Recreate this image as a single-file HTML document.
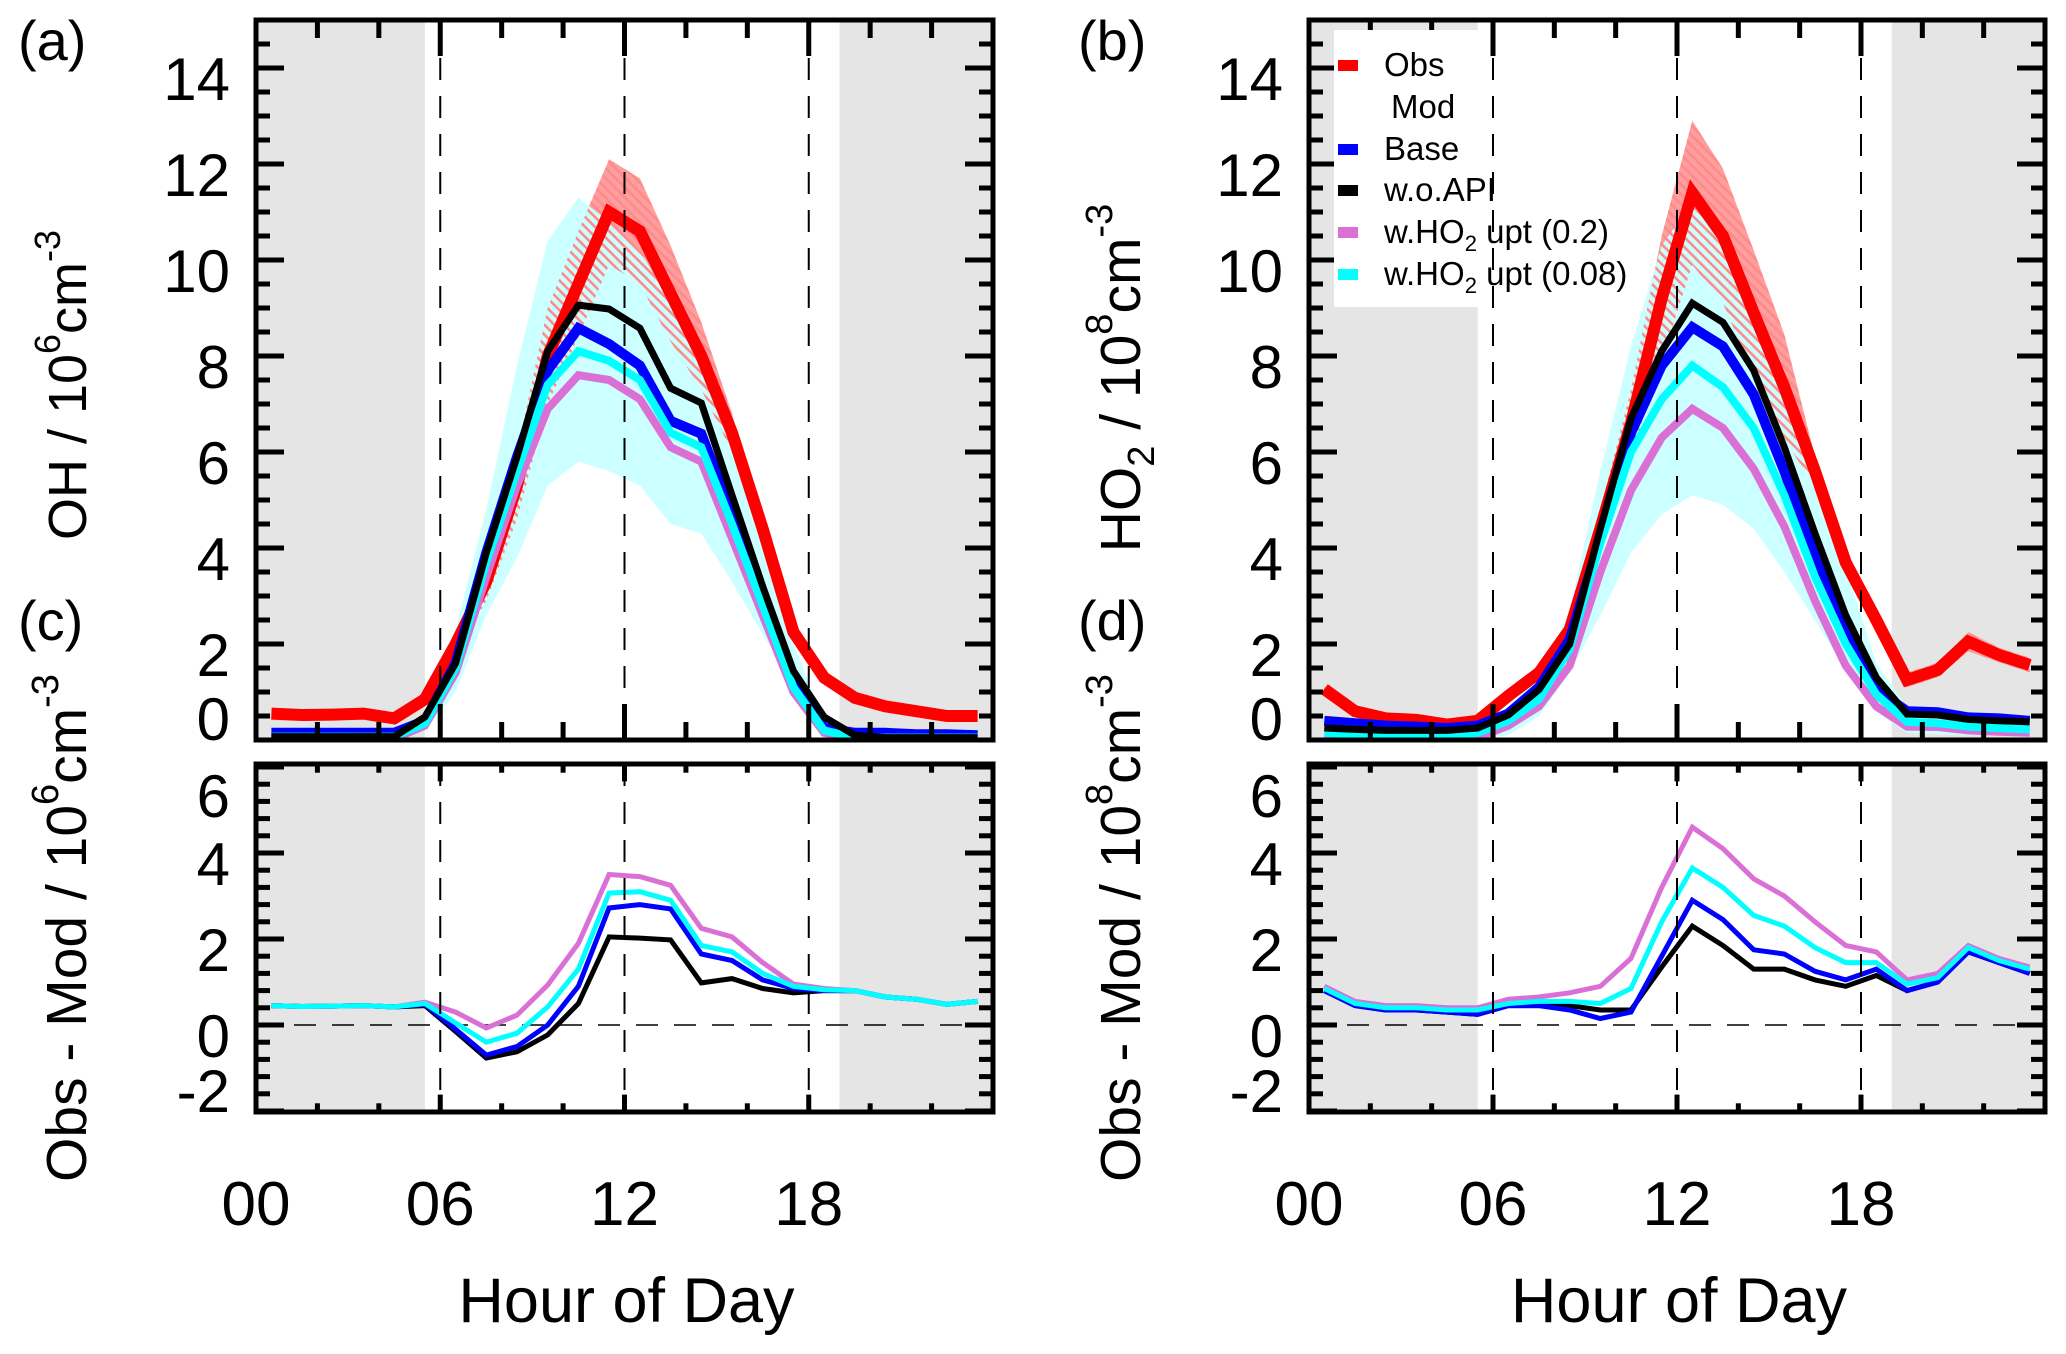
<!DOCTYPE html>
<html><head><meta charset="utf-8"><style>
html,body{margin:0;padding:0;background:#fff;}
svg{display:block;font-family:"Liberation Sans",sans-serif;}
</style></head><body>
<svg id="fig" width="2066" height="1354" viewBox="0 0 2066 1354" xmlns="http://www.w3.org/2000/svg">
<defs>
<pattern id="hatch" patternUnits="userSpaceOnUse" width="7" height="7" patternTransform="rotate(-45)">
<rect x="0" y="0" width="2.6" height="7" fill="#ff8a8a"/>
</pattern>
<clipPath id="clipAU"><rect x="256" y="20" width="737" height="720"/></clipPath>
<clipPath id="clipAL"><rect x="256" y="764" width="737" height="348"/></clipPath>
<clipPath id="clipBU"><rect x="1309" y="20" width="736" height="720"/></clipPath>
<clipPath id="clipBL"><rect x="1309" y="764" width="736" height="348"/></clipPath>
</defs>
</svg>
<script>
// ---- data ----
const hours = [0.5,1.5,2.5,3.5,4.5,5.5,6.5,7.5,8.5,9.5,10.5,11.5,12.5,13.5,14.5,15.5,16.5,17.5,18.5,19.5,20.5,21.5,22.5,23.5];
const xTicks = [0,6,12,18];
const xTickLabels = ["00","06","12","18"];
const upperTicks = [0,2,4,6,8,10,12,14];
const lowerTicks = [-2,0,2,4,6];

// Panel (a) OH
const ohObs    = [0.55,0.52,0.53,0.55,0.45,0.85,2.0,3.3,5.3,8.0,9.5,11.0,10.6,9.3,8.0,6.4,4.4,2.25,1.3,0.88,0.7,0.6,0.5,0.5];
const ohObsErr = [0,0,0,0,0,0,0.2,0.4,0.7,1.0,1.1,1.1,1.1,1.0,0.7,0.4,0.2,0.1,0.05,0.05,0,0,0,0];
const ohBase   = [0.15,0.15,0.15,0.15,0.15,0.4,1.6,3.9,5.9,7.7,8.58,8.25,7.8,6.65,6.38,4.7,2.9,1.2,0.25,0.15,0.15,0.12,0.12,0.1];
const ohNoApi  = [0.07,0.07,0.07,0.07,0.07,0.48,1.6,3.9,5.9,8.1,9.06,8.98,8.58,7.33,7.02,5.1,3.2,1.44,0.48,0.1,0.05,0.05,0.05,0.05];
const ohUpt02  = [0.03,0.03,0.03,0.03,0.03,0.3,1.4,3.4,5.3,6.9,7.6,7.5,7.1,6.1,5.8,4.2,2.6,1.0,0.15,0.02,0.02,0.02,0.02,0.02];
const ohUpt008 = [0.07,0.07,0.07,0.07,0.07,0.35,1.5,3.7,5.6,7.4,8.1,7.9,7.5,6.4,6.1,4.5,2.8,1.1,0.2,0.05,0.05,0.05,0.05,0.05];
const ohBandLo = [0.02,0.02,0.02,0.02,0.02,0.2,1.0,2.6,3.8,5.3,5.8,5.6,5.3,4.5,4.3,3.3,2.2,1.2,0.2,0.02,0.02,0.02,0.02,0.02];
const ohBandHi = [0.1,0.1,0.1,0.1,0.1,0.5,2.3,4.8,7.8,10.4,11.3,10.8,10.2,9.1,8.2,6.5,4.3,2.0,0.4,0.1,0.1,0.1,0.1,0.1];

// Panel (b) HO2
const ho2Obs    = [1.06,0.6,0.45,0.42,0.32,0.4,0.92,1.4,2.3,4.4,6.6,9.2,11.4,10.5,8.9,7.35,5.6,3.7,2.5,1.25,1.46,2.05,1.77,1.56];
const ho2ObsErr = [0.05,0.05,0.05,0.05,0.05,0.05,0.05,0.1,0.2,0.4,0.7,1.3,1.5,1.4,1.3,1.1,0.3,0.2,0.15,0.15,0.15,0.2,0.15,0.15];
const ho2Base   = [0.4,0.35,0.3,0.28,0.25,0.3,0.55,1.1,2.1,4.2,6.4,7.8,8.6,8.2,7.2,5.6,3.8,2.2,1.05,0.6,0.58,0.47,0.45,0.4];
const ho2NoApi  = [0.25,0.22,0.2,0.2,0.2,0.25,0.52,1.05,2.0,4.4,6.7,8.1,9.1,8.7,7.7,6.1,4.3,2.6,1.3,0.54,0.52,0.43,0.4,0.38];
const ho2Upt02  = [0.05,0.03,0.02,0.02,0.02,0.05,0.3,0.7,1.55,3.5,5.2,6.3,6.9,6.5,5.65,4.45,2.9,1.55,0.7,0.28,0.27,0.2,0.17,0.15];
const ho2Upt008 = [0.15,0.12,0.1,0.1,0.1,0.15,0.4,0.85,1.9,4.1,6.0,7.1,7.8,7.35,6.5,5.1,3.4,2.0,0.95,0.38,0.35,0.28,0.25,0.22];
const ho2BandLo = [0.02,0.02,0.02,0.02,0.02,0.02,0.1,0.5,1.4,2.6,3.9,4.7,5.1,4.9,4.4,3.5,2.5,1.45,0.6,0.15,0.12,0.1,0.1,0.1];
const ho2BandHi = [0.4,0.35,0.3,0.3,0.3,0.35,0.7,1.3,2.7,5.6,8.2,10.3,11.2,10.6,9.2,7.7,5.8,3.6,1.6,0.7,0.65,0.55,0.5,0.45];

// Panel (c) OH obs - mod
const cBase   = [0.45,0.43,0.44,0.45,0.42,0.48,-0.1,-0.7,-0.5,0.0,0.9,2.72,2.8,2.7,1.65,1.5,1.05,0.85,0.8,0.8,0.65,0.6,0.48,0.55];
const cNoApi  = [0.45,0.43,0.44,0.45,0.42,0.45,-0.15,-0.77,-0.62,-0.23,0.5,2.05,2.02,1.98,0.98,1.08,0.85,0.75,0.8,0.8,0.65,0.6,0.48,0.55];
const cUpt02  = [0.45,0.43,0.44,0.45,0.42,0.53,0.3,-0.07,0.23,0.93,1.9,3.5,3.45,3.25,2.25,2.05,1.45,0.95,0.85,0.8,0.65,0.6,0.48,0.55];
const cUpt008 = [0.45,0.43,0.44,0.45,0.42,0.5,0.05,-0.4,-0.19,0.42,1.3,3.07,3.1,2.9,1.85,1.7,1.2,0.9,0.82,0.8,0.65,0.6,0.48,0.55];

// Panel (d) HO2 obs - mod
const dBase   = [0.8,0.45,0.35,0.35,0.3,0.25,0.45,0.45,0.35,0.15,0.3,1.6,2.9,2.45,1.75,1.65,1.25,1.05,1.3,0.8,1.0,1.7,1.45,1.2];
const dNoApi  = [0.8,0.45,0.35,0.35,0.3,0.25,0.45,0.45,0.45,0.35,0.35,1.35,2.3,1.85,1.3,1.3,1.05,0.9,1.15,0.8,1.0,1.7,1.45,1.2];
const dUpt02  = [0.9,0.55,0.45,0.45,0.4,0.4,0.6,0.65,0.75,0.9,1.55,3.2,4.6,4.1,3.4,3.0,2.4,1.85,1.7,1.05,1.2,1.85,1.55,1.35];
const dUpt008 = [0.85,0.5,0.4,0.4,0.35,0.35,0.5,0.55,0.55,0.5,0.85,2.4,3.65,3.2,2.55,2.3,1.8,1.45,1.45,0.95,1.1,1.8,1.5,1.3];

// ---- drawing ----
const NS = "http://www.w3.org/2000/svg";
const svg = document.getElementById('fig');
function mk(tag, attrs, parent){
  const e = document.createElementNS(NS, tag);
  for (const k in attrs) e.setAttribute(k, attrs[k]);
  (parent||svg).appendChild(e);
  return e;
}
function xScale(p){ return h => p.x0 + (h/24)*(p.x1-p.x0); }
function yScaleU(v){ return 740 - v*48; }
function yScaleL(v){ return 1025 - v*43; }
function linePts(xs, ys, xf, yf){ return xs.map((h,i)=> xf(h).toFixed(1)+','+yf(ys[i]).toFixed(1)).join(' '); }
function bandPts(xs, lo, hi, xf, yf){
  const a = xs.map((h,i)=> xf(h).toFixed(1)+','+yf(hi[i]).toFixed(1));
  const b = xs.map((h,i)=> xf(h).toFixed(1)+','+yf(lo[i]).toFixed(1)).reverse();
  return a.concat(b).join(' ');
}
const COL = {obs:'#ff0000', base:'#0000ff', noapi:'#000000', upt02:'#da70d6', upt008:'#00ffff'};

function drawFrame(p, top, bot, tag){
  const xf = xScale(p);
  const g1 = mk('rect',{x:p.x0,y:top,width:xf(5.5)-p.x0,height:bot-top,fill:'#e5e5e5'});
  
  
  const g2 = mk('rect',{x:xf(19),y:top,width:p.x1-xf(19),height:bot-top,fill:'#e5e5e5'});
  
  
}
function drawAxes(p, top, bot, yf, ticks, minorStep, ymin, ymax, labelOverrides, tag){
  const xf = xScale(p);
  const hgt = bot-top;
  const maj = hgt*0.05, mnr = hgt*0.025;
  [6,12,18].forEach(h=>{
    const l = mk('line',{x1:xf(h),x2:xf(h),y1:top,y2:bot,stroke:'#000','stroke-width':2,'stroke-dasharray':'22,16'});
    
    
  });
  for(let h=0; h<=24; h+=2){
    const len = (h%6===0)?maj:mnr;
    const x = xf(h);
    const t1 = mk('line',{x1:x,x2:x,y1:bot,y2:bot-len,stroke:'#000','stroke-width':5});
    
    
    const t2 = mk('line',{x1:x,x2:x,y1:top,y2:top+len,stroke:'#000','stroke-width':5});
    
    
  }
  for(let v=ymin; v<=ymax+1e-6; v+=minorStep){
    const y = yf(v);
    if (y < top-1 || y > bot+1) continue;
    const isMaj = ticks.some(t=>Math.abs(t-v)<1e-6);
    const len = isMaj?28:14;
    const a = mk('line',{x1:p.x0,x2:p.x0+len,y1:y,y2:y,stroke:'#000','stroke-width':5});
    
    
    const b = mk('line',{x1:p.x1,x2:p.x1-len,y1:y,y2:y,stroke:'#000','stroke-width':5});
    
    
  }
  ticks.forEach(v=>{
    let base = yf(v)+32;
    if (labelOverrides[v]!==undefined) base = labelOverrides[v];
    const t = mk('text',{x:p.x0-26,y:base,'text-anchor':'end','font-size':60,fill:'#000'});
    t.textContent = String(v);
    
    
  });
  const fr = mk('rect',{x:p.x0,y:top,width:p.x1-p.x0,height:bot-top,fill:'none',stroke:'#000','stroke-width':5});
  
  
}
function drawLine(ys, color, w, xf, yf, clip, name){
  const l = mk('polyline',{points:linePts(hours, ys, xf, yf),fill:'none',stroke:color,'stroke-width':w,'stroke-linejoin':'miter','clip-path':'url(#'+clip+')'});
  
  
}

const panels = [
  {x0:256, x1:993, tag:'oh', cU:'clipAU', cL:'clipAL',
   obs:ohObs, err:ohObsErr, lo:ohBandLo, hi:ohBandHi, base:ohBase, noapi:ohNoApi, u02:ohUpt02, u008:ohUpt008,
   dB:cBase, dN:cNoApi, d02:cUpt02, d008:cUpt008},
  {x0:1309, x1:2045, tag:'ho2', cU:'clipBU', cL:'clipBL',
   obs:ho2Obs, err:ho2ObsErr, lo:ho2BandLo, hi:ho2BandHi, base:ho2Base, noapi:ho2NoApi, u02:ho2Upt02, u008:ho2Upt008,
   dB:dBase, dN:dNoApi, d02:dUpt02, d008:dUpt008}
];

panels.forEach(p=>{
  const xf = xScale(p);
  drawFrame(p,20,740,p.tag+'-upper');
  const obsHi = p.obs.map((v,i)=>v+p.err[i]);
  const obsLo = p.obs.map((v,i)=>Math.max(0,v-p.err[i]));
  const rb = mk('polygon',{points:bandPts(hours,obsLo,obsHi,xf,yScaleU),fill:'#ff9e9e','clip-path':'url(#'+p.cU+')'});
  
  
  const cb = mk('polygon',{points:bandPts(hours,p.lo,p.hi,xf,yScaleU),fill:'#ccffff','clip-path':'url(#'+p.cU+')'});
  
  
  const hb = mk('polygon',{points:bandPts(hours,obsLo,obsHi,xf,yScaleU),fill:'url(#hatch)','clip-path':'url(#'+p.cU+')'});
  
  
  drawLine(p.obs, COL.obs, 12, xf, yScaleU, p.cU, p.tag+'-obs-line');
  drawLine(p.u02, COL.upt02, 8, xf, yScaleU, p.cU, p.tag+'-upt02-line');
  drawLine(p.base, COL.base, 10, xf, yScaleU, p.cU, p.tag+'-base-line');
  drawLine(p.u008, COL.upt008, 8, xf, yScaleU, p.cU, p.tag+'-upt008-line');
  drawLine(p.noapi, COL.noapi, 7, xf, yScaleU, p.cU, p.tag+'-noapi-line');
  drawAxes(p,20,740,yScaleU,upperTicks,0.5,0,15,{0:740},p.tag+'-upper');
  drawFrame(p,764,1112,p.tag+'-lower');
  const zl = mk('line',{x1:p.x0,x2:p.x1,y1:yScaleL(0),y2:yScaleL(0),stroke:'#000','stroke-width':1.5,'stroke-dasharray':'22,16'});
  
  
  drawLine(p.dN, COL.noapi, 5, xf, yScaleL, p.cL, p.tag+'-diff-noapi-line');
  drawLine(p.dB, COL.base, 5, xf, yScaleL, p.cL, p.tag+'-diff-base-line');
  drawLine(p.d02, COL.upt02, 5, xf, yScaleL, p.cL, p.tag+'-diff-upt02-line');
  drawLine(p.d008, COL.upt008, 5, xf, yScaleL, p.cL, p.tag+'-diff-upt008-line');
  drawAxes(p,764,1112,yScaleL,lowerTicks,0.4,-2,6.07,{'-2':1112,6:817},p.tag+'-lower');
  xTicks.forEach((h,i)=>{
    const t = mk('text',{x:xf(h),y:1225,'text-anchor':'middle','font-size':62,fill:'#000'});
    t.textContent = xTickLabels[i];
    
    
  });
  const xt = mk('text',{x:(p.x0+p.x1)/2+2,y:1322,'text-anchor':'middle','font-size':63,fill:'#000'});
  xt.textContent = 'Hour of Day';
  
  
});
</script>

<svg style="position:absolute;left:0;top:0" width="2066" height="1354" viewBox="0 0 2066 1354" xmlns="http://www.w3.org/2000/svg">
<g font-family="Liberation Sans, sans-serif" fill="#000">
<text x="18" y="60" font-size="56">(a)</text>
<text x="18" y="640" font-size="56">(c)</text>
<text x="1078" y="60" font-size="56">(b)</text>
<text x="1078" y="640" font-size="56">(d)</text>

<text transform="translate(86,385) rotate(-90)" text-anchor="middle" font-size="54">OH / 10<tspan font-size="36" dy="-26">6</tspan><tspan dy="26">cm</tspan><tspan font-size="36" dy="-26">-3</tspan></text>
<text transform="translate(86,928) rotate(-90)" text-anchor="middle" font-size="57">Obs - Mod / 10<tspan font-size="38" dy="-28">6</tspan><tspan dy="28">cm</tspan><tspan font-size="38" dy="-28">-3</tspan></text>
<text transform="translate(1140,378) rotate(-90)" text-anchor="middle" font-size="57">HO<tspan font-size="38" dy="14">2</tspan><tspan dy="-14"> / 10</tspan><tspan font-size="38" dy="-28">8</tspan><tspan dy="28">cm</tspan><tspan font-size="38" dy="-28">-3</tspan></text>
<text transform="translate(1140,928) rotate(-90)" text-anchor="middle" font-size="57">Obs - Mod / 10<tspan font-size="38" dy="-28">8</tspan><tspan dy="28">cm</tspan><tspan font-size="38" dy="-28">-3</tspan></text>

<g>
<rect x="1334" y="30" width="146" height="277" fill="#ffffff"/>
<rect x="1338" y="60" width="20" height="11" fill="#ff0000"/>
<text x="1384" y="76" font-size="33">Obs</text>
<text x="1391" y="118" font-size="33">Mod</text>
<rect x="1338" y="144" width="20" height="11" fill="#0000ff"/>
<text x="1384" y="160" font-size="33">Base</text>
<rect x="1338" y="185" width="20" height="11" fill="#000000"/>
<text x="1384" y="201" font-size="33">w.o.API</text>
<rect x="1338" y="227" width="20" height="11" fill="#da70d6"/>
<text x="1384" y="243" font-size="33">w.HO<tspan font-size="22" dy="8">2</tspan><tspan dy="-8"> upt (0.2)</tspan></text>
<rect x="1338" y="269" width="20" height="11" fill="#00ffff"/>
<text x="1384" y="285" font-size="33">w.HO<tspan font-size="22" dy="8">2</tspan><tspan dy="-8"> upt (0.08)</tspan></text>
</g>
</g>
</svg>
</body></html>
